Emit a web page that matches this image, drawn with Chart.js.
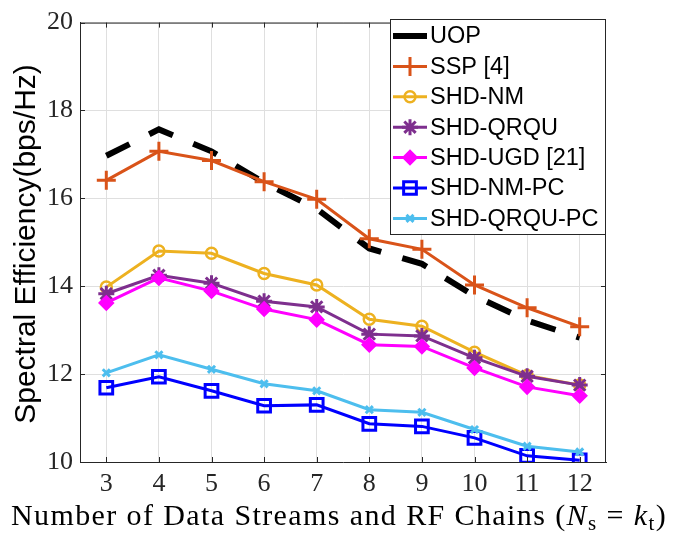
<!DOCTYPE html>
<html>
<head>
<meta charset="utf-8">
<script src="https://cdn.jsdelivr.net/npm/chart.js@4/dist/chart.umd.min.js"></script>
<style>
  body { margin: 0; background: #fff; }
  #chart { display: block; }
</style>
</head>
<body>
<canvas id="chart" width="675" height="534"></canvas>
<script>
// x categories (number of streams / RF chains)
const streams = ['3', '4', '5', '6', '7', '8', '9', '10', '11', '12'];
const yTicks = [10, 12, 14, 16, 18, 20];

// series values
const uop    = [16.97, 17.57, 17.07, 16.36, 15.76, 14.86, 14.51, 13.78, 13.22, 12.83];
const ssp    = [16.41, 17.07, 16.86, 16.38, 15.98, 15.08, 14.84, 14.03, 13.51, 13.08];
const shdNm  = [13.98, 14.80, 14.75, 14.29, 14.03, 13.25, 13.09, 12.50, 11.97, 11.75];
const shdQrqu = [13.83, 14.25, 14.07, 13.66, 13.53, 12.91, 12.87, 12.37, 11.95, 11.75];
const shdUgd = [13.62, 14.19, 13.89, 13.48, 13.24, 12.67, 12.63, 12.14, 11.71, 11.51];
const shdNmPc = [11.69, 11.94, 11.62, 11.28, 11.30, 10.87, 10.81, 10.55, 10.14, 10.04];
const shdQrquPc = [12.03, 12.44, 12.11, 11.78, 11.62, 11.19, 11.13, 10.74, 10.36, 10.23];

const seriesNames = ['UOP', 'SSP [4]', 'SHD-NM', 'SHD-QRQU', 'SHD-UGD [21]', 'SHD-NM-PC', 'SHD-QRQU-PC'];

const AXIS = '#262626';
const serif = '"Liberation Serif", "Times New Roman", serif';
const sans = '"Liberation Sans", Arial, sans-serif';

function series(i, data, color, style, radius, fill, extra) {
    return Object.assign({
        label: seriesNames[i],
        data: data,
        borderColor: color,
        backgroundColor: color,
        borderWidth: 3,
        pointStyle: style,
        pointRadius: radius,
        pointHoverRadius: radius,
        pointBorderColor: color,
        pointBackgroundColor: fill,
        pointBorderWidth: 2.5,
        order: 6 - i
    }, extra || {});
}

const datasets = [
    series(0, uop, '#000000', false, 0, '#000000', { borderWidth: 6, borderDash: [26, 22], borderCapStyle: 'butt' }),
    series(1, ssp, '#D95319', 'cross', 9.5, '#D95319', { pointBorderWidth: 3 }),
    series(2, shdNm, '#EDB120', 'circle', 5.5, 'rgba(0,0,0,0)'),
    series(3, shdQrqu, '#7E2F8E', 'star', 8, '#7E2F8E', { pointBorderWidth: 3 }),
    series(4, shdUgd, '#FF00FF', 'rectRot', 6.5, '#FF00FF'),
    series(5, shdNmPc, '#0000FF', 'rect', 9, 'rgba(0,0,0,0)', { pointBorderWidth: 3 }),
    series(6, shdQrquPc, '#4DBEEE', 'crossRot', 5, '#4DBEEE', { pointBorderWidth: 3 })
];

// box, inward ticks, axis titles and the in-plot legend
const decor = {
    id: 'decor',
    afterDraw(chart) {
        const ctx = chart.ctx;
        const a = chart.chartArea;
        const xs = chart.scales.x, ys = chart.scales.y;
        ctx.save();
        ctx.strokeStyle = AXIS;
        ctx.lineWidth = 1;
        ctx.beginPath();
        ctx.moveTo(a.left, a.top + 0.5); ctx.lineTo(a.right, a.top + 0.5);
        ctx.moveTo(a.right - 0.5, a.top); ctx.lineTo(a.right - 0.5, a.bottom);
        streams.forEach((s, i) => {
            const x = Math.round(xs.getPixelForValue(i)) + 0.5;
            ctx.moveTo(x, a.bottom); ctx.lineTo(x, a.bottom - 5);
            ctx.moveTo(x, a.top); ctx.lineTo(x, a.top + 5);
        });
        yTicks.forEach(v => {
            const y = Math.round(ys.getPixelForValue(v)) + 0.5;
            ctx.moveTo(a.left, y); ctx.lineTo(a.left + 5, y);
            ctx.moveTo(a.right, y); ctx.lineTo(a.right - 5, y);
        });
        ctx.stroke();

        // y title
        ctx.fillStyle = '#000';
        ctx.font = '30px ' + sans;
        ctx.textAlign = 'center';
        ctx.textBaseline = 'middle';
        ctx.translate(27, 244);
        ctx.rotate(-Math.PI / 2);
        ctx.fillText('Spectral Efficiency(bps/Hz)', 0, 0);
        ctx.setTransform(1, 0, 0, 1, 0, 0);

        // x title with math parts
        const big = '30px ' + serif, ital = 'italic 30px ' + serif, small = '21px ' + serif;
        const parts = [
            { t: 'Number of Data Streams and RF Chains (', f: big, dy: 0 },
            { t: 'N', f: ital, dy: 0 },
            { t: 's', f: small, dy: 5 },
            { t: ' = ', f: big, dy: 0 },
            { t: 'k', f: ital, dy: 0 },
            { t: 't', f: small, dy: 5 },
            { t: ')', f: big, dy: 0 }
        ];
        ctx.textAlign = 'left';
        ctx.textBaseline = 'alphabetic';
        ctx.letterSpacing = '1.4px';
        let total = 0;
        parts.forEach(p => { ctx.font = p.f; p.w = ctx.measureText(p.t).width; total += p.w; });
        let x = 339 - total / 2;
        parts.forEach(p => { ctx.font = p.f; ctx.fillText(p.t, x, 525 + p.dy); x += p.w; });
        ctx.letterSpacing = '0px';

        // legend
        const lx = 390, ly = 19, lw = 216, lh = 216;
        ctx.fillStyle = '#fff';
        ctx.fillRect(lx, ly, lw, lh);
        ctx.strokeStyle = AXIS;
        ctx.lineWidth = 1;
        ctx.strokeRect(lx + 0.5, ly + 0.5, lw - 1, lh - 1);
        ctx.font = '23.5px ' + sans;
        ctx.textBaseline = 'middle';
        datasets.forEach((d, i) => {
            const y = 36 + i * 30.4;
            ctx.strokeStyle = d.borderColor;
            ctx.lineWidth = d.borderWidth;
            ctx.setLineDash([]);
            ctx.beginPath();
            ctx.moveTo(393, y); ctx.lineTo(427, y);
            ctx.stroke();
            if (d.pointStyle) {
                ctx.fillStyle = d.pointBackgroundColor;
                ctx.lineWidth = d.pointBorderWidth;
                Chart.helpers.drawPoint(ctx, { pointStyle: d.pointStyle, radius: d.pointRadius, rotation: 0, borderWidth: d.pointBorderWidth }, 410, y);
            }
            ctx.fillStyle = '#000';
            ctx.fillText(d.label, 430, y + 1);
        });
        ctx.restore();
    }
};

const ctx = document.getElementById('chart').getContext('2d');
new Chart(ctx, {
    type: 'line',
    data: { labels: streams, datasets: datasets },
    options: {
        responsive: false,
        animation: false,
        devicePixelRatio: 1,
        layout: { padding: { left: 0, top: 17, right: 69, bottom: 0 } },
        plugins: { legend: { display: false }, tooltip: { enabled: false } },
        scales: {
            x: {
                type: 'category',
                offset: true,
                grid: { color: '#dfdfdf', drawTicks: false, offset: false },
                border: { color: AXIS, width: 1 },
                ticks: { color: AXIS, font: { family: serif, size: 26 }, padding: 7, maxRotation: 0 },
                afterFit(scale) { scale.height = 72; }
            },
            y: {
                min: 10,
                max: 20,
                grid: { color: '#dfdfdf', drawTicks: false },
                border: { color: AXIS, width: 1 },
                ticks: { color: AXIS, font: { family: serif, size: 26 }, padding: 7, stepSize: 2 },
                afterFit(scale) { scale.width = 80; }
            }
        }
    },
    plugins: [decor]
});
</script>
</body>
</html>
